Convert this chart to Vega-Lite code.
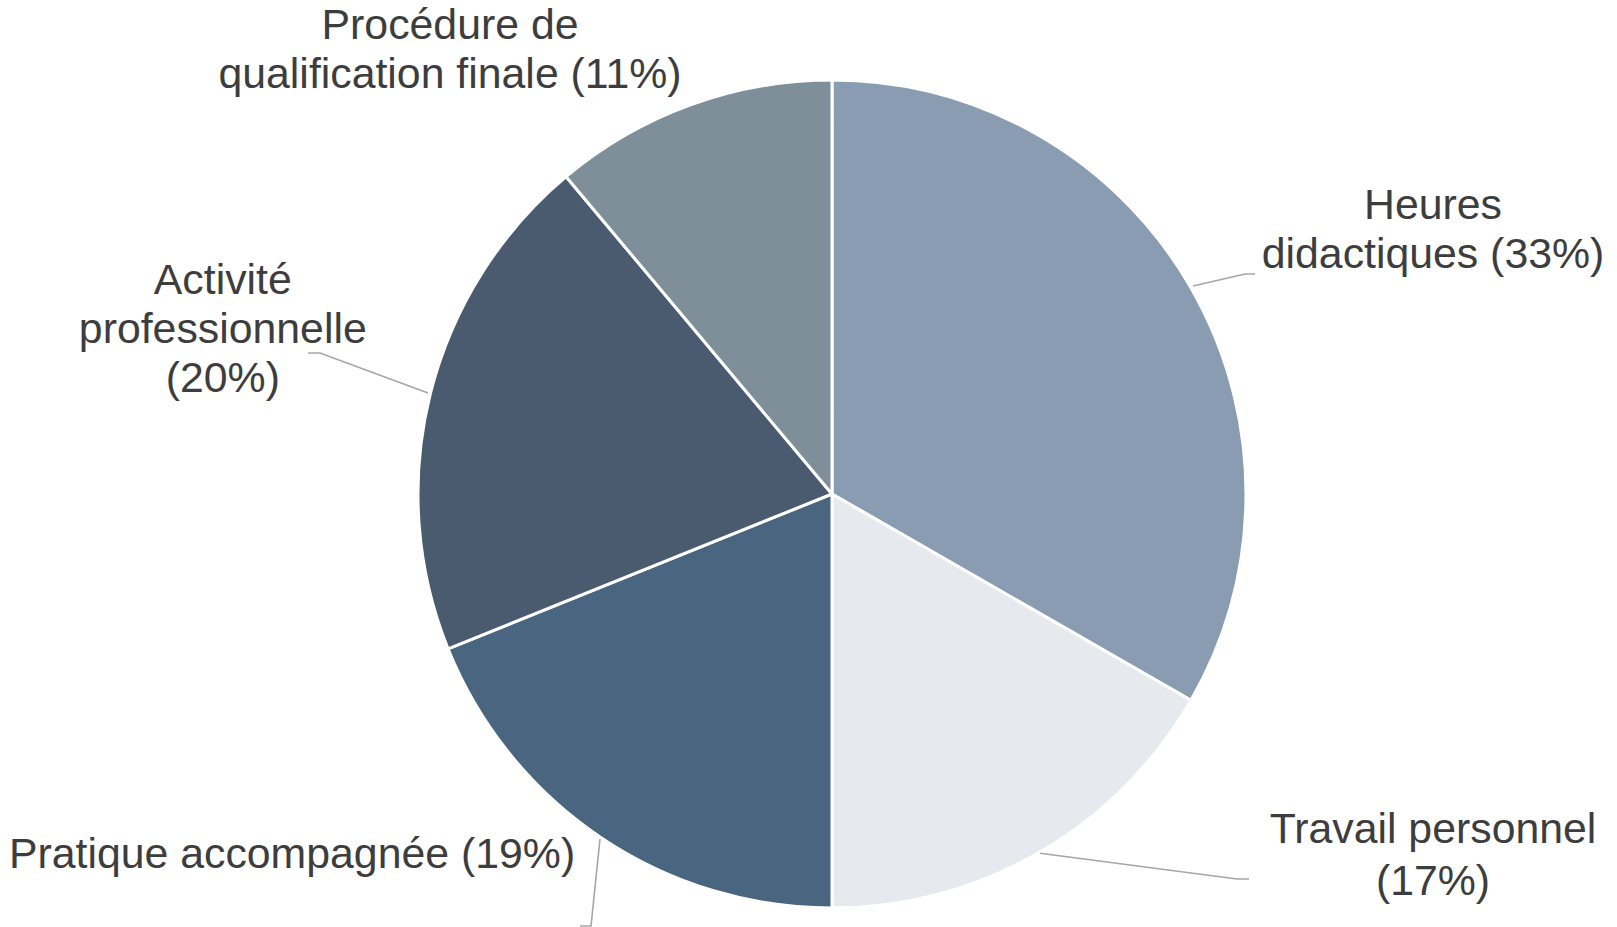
{
  "$schema": "https://vega.github.io/schema/vega-lite/v6.json",
  "autosize": "none",
  "width": 1617,
  "height": 927,
  "padding": 0,
  "background": "white",
  "config": {"view": {"stroke": null}},
  "datasets": {
    "slices": [
      {"category": "Heures didactiques", "pct": 33.3, "rank": 1},
      {"category": "Travail personnel", "pct": 16.7, "rank": 2},
      {"category": "Pratique accompagnée", "pct": 18.9, "rank": 3},
      {"category": "Activité professionnelle", "pct": 20.0, "rank": 4},
      {"category": "Procédure de qualification finale", "pct": 11.1, "rank": 5}
    ],
    "labels": [
      {"category": "Procédure de qualification finale", "text": "Procédure de", "lx": -0.9227, "ly": 1.1309},
      {"category": "Procédure de qualification finale", "text": "qualification finale (11%)", "lx": -0.9227, "ly": 1.0114},
      {"category": "Heures didactiques", "text": "Heures", "lx": 1.4517, "ly": 0.6949},
      {"category": "Heures didactiques", "text": "didactiques (33%)", "lx": 1.4517, "ly": 0.578},
      {"category": "Travail personnel", "text": "Travail personnel", "lx": 1.4517, "ly": -0.8121},
      {"category": "Travail personnel", "text": "(17%)", "lx": 1.4517, "ly": -0.9367},
      {"category": "Pratique accompagnée", "text": "Pratique accompagnée (19%)", "lx": -1.3043, "ly": -0.872},
      {"category": "Activité professionnelle", "text": "Activité", "lx": -1.4715, "ly": 0.5157},
      {"category": "Activité professionnelle", "text": "professionnelle", "lx": -1.4715, "ly": 0.3961},
      {"category": "Activité professionnelle", "text": "(20%)", "lx": -1.4715, "ly": 0.2766}
    ],
    "leaders": [
      {"category": "Heures didactiques", "seq": 1, "lx": 0.872, "ly": 0.5024},
      {"category": "Heures didactiques", "seq": 2, "lx": 0.9976, "ly": 0.5314},
      {"category": "Heures didactiques", "seq": 3, "lx": 1.0217, "ly": 0.5314},
      {"category": "Travail personnel", "seq": 1, "lx": 0.5024, "ly": -0.8679},
      {"category": "Travail personnel", "seq": 2, "lx": 0.9783, "ly": -0.93},
      {"category": "Travail personnel", "seq": 3, "lx": 1.0072, "ly": -0.93},
      {"category": "Pratique accompagnée", "seq": 1, "lx": -0.5604, "ly": -0.8333},
      {"category": "Pratique accompagnée", "seq": 2, "lx": -0.5821, "ly": -1.0435},
      {"category": "Pratique accompagnée", "seq": 3, "lx": -0.6087, "ly": -1.0435},
      {"category": "Activité professionnelle", "seq": 1, "lx": -0.9758, "ly": 0.244},
      {"category": "Activité professionnelle", "seq": 2, "lx": -1.2367, "ly": 0.3406},
      {"category": "Activité professionnelle", "seq": 3, "lx": -1.2657, "ly": 0.3406}
    ]
  },
  "layer": [
    {
      "data": {"name": "slices"},
      "mark": {"type": "arc", "outerRadius": 414, "stroke": "white", "strokeWidth": 3},
      "encoding": {
        "x": {"datum": 0, "type": "quantitative", "scale": {"domain": [-2.00966, 1.89614], "nice": false, "zero": false}, "axis": null},
        "y": {"datum": 0, "type": "quantitative", "scale": {"domain": [-1.04589, 1.19324], "nice": false, "zero": false}, "axis": null},
        "theta": {"field": "pct", "type": "quantitative", "stack": true},
        "order": {"field": "rank", "type": "quantitative"},
        "color": {
          "field": "category",
          "type": "nominal",
          "legend": null,
          "scale": {
            "domain": ["Heures didactiques", "Travail personnel", "Pratique accompagnée", "Activité professionnelle", "Procédure de qualification finale"],
            "range": ["#8a9cb1", "#e6eaee", "#4a6580", "#4b5b6f", "#7e8f9a"]
          }
        }
      }
    },
    {
      "data": {"name": "leaders"},
      "mark": {"type": "line", "color": "#a6a6a6", "strokeWidth": 1.6, "clip": false},
      "encoding": {
        "x": {"field": "lx", "type": "quantitative"},
        "y": {"field": "ly", "type": "quantitative"},
        "detail": {"field": "category"},
        "order": {"field": "seq", "type": "quantitative"}
      }
    },
    {
      "data": {"name": "labels"},
      "mark": {"type": "text", "font": "Liberation Sans", "fontSize": 42.8, "color": "#3d3d3d", "align": "center", "baseline": "middle"},
      "encoding": {
        "x": {"field": "lx", "type": "quantitative"},
        "y": {"field": "ly", "type": "quantitative"},
        "text": {"field": "text"}
      }
    }
  ]
}
